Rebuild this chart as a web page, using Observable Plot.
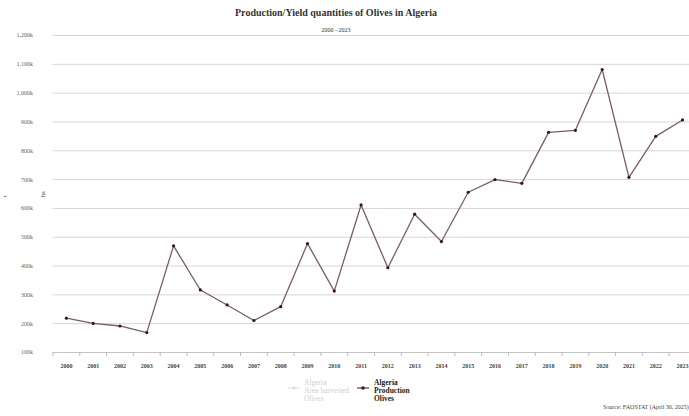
<!DOCTYPE html>
<html>
<head>
<meta charset="utf-8">
<script src="https://cdn.jsdelivr.net/npm/d3@7"></script>
<script src="https://cdn.jsdelivr.net/npm/@observablehq/plot@0.6"></script>
<style>
  html, body { margin: 0; padding: 0; background: #fff; overflow: hidden; }
  #wrap { position: relative; width: 689px; height: 416px; font-family: "Liberation Serif", serif; }
  .abs { position: absolute; white-space: nowrap; }
  #title { left: 0; width: 672px; top: 7px; text-align: center; font-weight: bold; font-size: 10px; color: #333; }
  #subtitle { left: 0; width: 672px; top: 27px; text-align: center; font-size: 6px; color: #333; }
  .leg { font-size: 7.5px; line-height: 8.2px; }
  #src { left: 603px; top: 404px; font-size: 6px; color: #444; }
  .ylab { font-size: 6px; color: #444; transform: rotate(-90deg); transform-origin: left top; }
</style>
</head>
<body>
<div id="wrap">
  <div id="chart"></div>
  <div id="title" class="abs">Production/Yield quantities of Olives in Algeria</div>
  <div id="subtitle" class="abs">2000 - 2023</div>
  <div class="abs ylab" style="left:2px; top:197px;">t</div>
  <div class="abs ylab" style="left:40px; top:197px;">ha</div>
  <div class="abs" style="left:288px; top:377px;">
    <svg width="12" height="6"><line x1="0" y1="3" x2="12" y2="3" stroke="#ddd" stroke-width="1"/><circle cx="6" cy="3" r="1.6" fill="#ddd"/></svg>
  </div>
  <div class="abs leg" style="left:304px; top:379px; color:#cfcfcf;">Algeria<br>Area harvested<br>Olives</div>
  <div class="abs" style="left:357px; top:377px;">
    <svg width="12" height="6"><line x1="0" y1="3" x2="12" y2="3" stroke="#6b4a4a" stroke-width="1.3"/><circle cx="6" cy="3" r="1.7" fill="#3d1515"/></svg>
  </div>
  <div class="abs leg" style="left:374px; top:379px; color:#222; font-weight:bold;">Algeria<br>Production<br>Olives</div>
  <div id="src" class="abs">Source: FAOSTAT (April 30, 2025)</div>
</div>
<script>
const years = [2000, 2001, 2002, 2003, 2004, 2005, 2006, 2007, 2008, 2009, 2010, 2011,
               2012, 2013, 2014, 2015, 2016, 2017, 2018, 2019, 2020, 2021, 2022, 2023];
const production = [219000, 201000, 192000, 169000, 470000, 317000, 265000, 211000, 259000, 478000, 313000, 612000,
                    394000, 580000, 485000, 656000, 700000, 687000, 864000, 871000, 1082000, 708000, 850000, 907000];
const yTicks = [100000, 200000, 300000, 400000, 500000, 600000, 700000, 800000, 900000, 1000000, 1100000, 1200000];

const data = years.map((year, i) => ({year, value: production[i]}));
const bandEdges = years.map(y => y - 0.5);

const chart = Plot.plot({
  width: 689,
  height: 416,
  marginLeft: 52.5,
  marginRight: 0,
  marginTop: 35,
  marginBottom: 64,
  style: { fontFamily: "Liberation Serif, serif", background: "transparent" },
  x: { type: "linear", domain: [1999.5, 2023.26] },
  y: { domain: [100000, 1200000] },
  marks: [
    Plot.ruleY(yTicks.slice(1), { stroke: "#d6d6d6", strokeWidth: 1 }),
    Plot.ruleY([100000], { stroke: "#c4c4c4", strokeWidth: 1 }),
    Plot.axisY({ ticks: yTicks, tickSize: 0, tickPadding: 20, fontSize: 6, fill: "#666",
                 tickFormat: d => d3.format(",")(d / 1000) + "k", label: null }),
    Plot.axisX({ ticks: bandEdges, tickSize: 4, stroke: "#bbb", tickFormat: () => "", label: null }),
    Plot.axisX({ ticks: years, tickSize: 0, tickPadding: 11, fontSize: 6, fill: "#444",
                 fontWeight: "bold", tickFormat: d => String(d), label: null }),
    Plot.line(data, { x: "year", y: "value", stroke: "#7b5e5e", strokeWidth: 1.3 }),
    Plot.dot(data, { x: "year", y: "value", r: 1.6, fill: "#3d1515", stroke: "none" })
  ]
});
document.getElementById("chart").appendChild(chart);
</script>
</body>
</html>
